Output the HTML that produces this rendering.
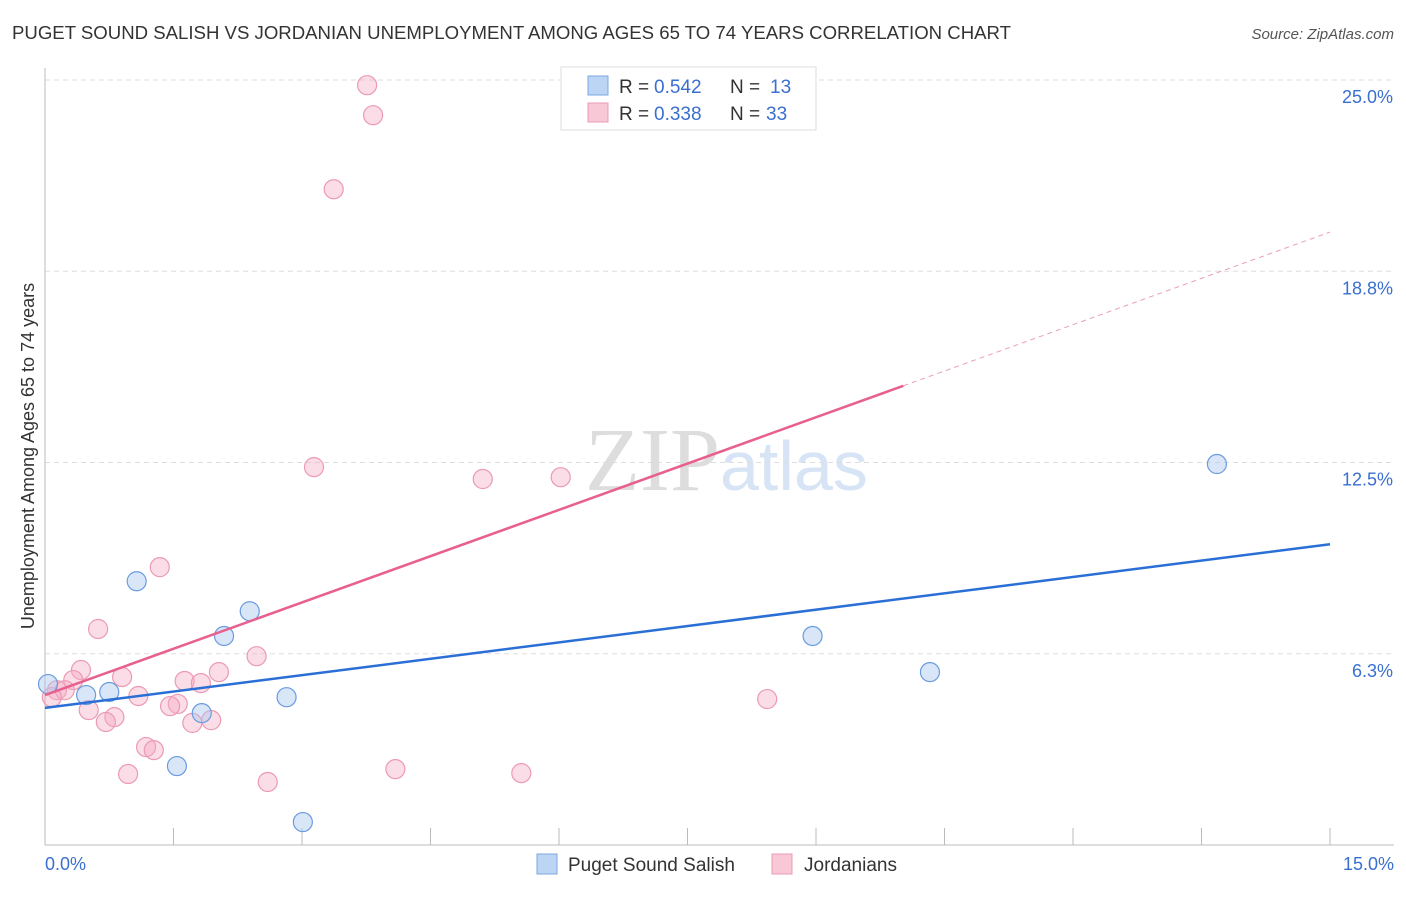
<!DOCTYPE html>
<html><head><meta charset="utf-8"><style>
body{margin:0;background:#fff;font-family:"Liberation Sans",sans-serif;}
</style></head><body>
<svg width="1406" height="892" xmlns="http://www.w3.org/2000/svg" id="chart">
<text x="12" y="39" font-size="18" fill="#333" textLength="999" lengthAdjust="spacingAndGlyphs">PUGET SOUND SALISH VS JORDANIAN UNEMPLOYMENT AMONG AGES 65 TO 74 YEARS CORRELATION CHART</text>
<text x="1394" y="39" font-size="15" fill="#555" font-style="italic" text-anchor="end">Source: ZipAtlas.com</text>
<text x="720" y="490" font-size="90" fill="#ddd" text-anchor="end" font-family="Liberation Serif">ZIP</text>
<text x="720" y="490" font-size="70" fill="#d6e4f5">atlas</text>
<g id="grid"></g>
<g id="axes"></g>
<g id="marks"></g>
<text transform="translate(34,456) rotate(-90)" font-size="18" fill="#333" text-anchor="middle">Unemployment Among Ages 65 to 74 years</text>
<g>
<rect x="561" y="67" width="255" height="63" fill="#fff" stroke="#ddd"/>
<rect x="588" y="76" width="20" height="19" fill="#bcd5f5" stroke="#7aa8e0"/>
<rect x="588" y="103" width="20" height="19" fill="#f9c8d6" stroke="#eb9ab3"/>
<text x="619" y="93" font-size="19" fill="#333">R =</text>
<text x="654" y="93" font-size="19" fill="#3a6fd0">0.542</text>
<text x="730" y="93" font-size="19" fill="#333">N =</text>
<text x="770" y="93" font-size="19" fill="#3a6fd0">13</text>
<text x="619" y="120" font-size="19" fill="#333">R =</text>
<text x="654" y="120" font-size="19" fill="#3a6fd0">0.338</text>
<text x="730" y="120" font-size="19" fill="#333">N =</text>
<text x="766" y="120" font-size="19" fill="#3a6fd0">33</text>
</g>
<g>
<rect x="537" y="854" width="20" height="20" fill="#bcd5f5" stroke="#7aa8e0"/>
<text x="568" y="871" font-size="19" fill="#333">Puget Sound Salish</text>
<rect x="772" y="854" width="20" height="20" fill="#f9c8d6" stroke="#eb9ab3"/>
<text x="804" y="871" font-size="19" fill="#333">Jordanians</text>
</g>
</svg>
<script>
const blueX=[0.035,0.48,0.75,1.07,1.54,1.83,2.09,2.39,2.82,3.01,8.96,10.33,13.68];
const blueY=[5.26,4.90,5.00,8.62,2.58,4.31,6.83,7.64,4.83,0.75,6.83,5.65,12.45];
const pinkX=[3.76,3.83,3.37,3.14,5.11,6.02,1.34,0.62,0.42,0.33,0.90,0.14,0.23,0.08,0.51,1.09,1.63,1.82,2.03,2.47,1.55,1.46,0.81,0.71,1.72,1.94,1.18,1.27,0.97,2.60,4.09,5.56,8.43];
const pinkY=[24.83,23.85,21.43,12.35,11.96,12.02,9.08,7.06,5.72,5.39,5.49,5.06,5.06,4.83,4.41,4.87,5.36,5.29,5.65,6.17,4.61,4.54,4.18,4.02,3.99,4.08,3.20,3.10,2.32,2.06,2.48,2.35,4.77];
const blueTrend=[4.48,9.83];
const pinkTrend=[4.90,20.03];
const yTicks=[6.25,12.5,18.75,25];
const yTickLabels=["6.3%","12.5%","18.8%","25.0%"];
const xTicks=[0,1.5,3,4.5,6,7.5,9,10.5,12,13.5,15];
const NS="http://www.w3.org/2000/svg";
const X=v=>45+v/15*1285, Y=v=>845-v/25*765;
function mk(t,a,p){const e=document.createElementNS(NS,t);for(const k in a)e.setAttribute(k,a[k]);document.getElementById(p).appendChild(e);return e;}
yTicks.forEach((v,i)=>{
 const l=mk('line',{x1:45,x2:1394,y1:Y(v),y2:Y(v),stroke:'#ddd','stroke-dasharray':'5,4'},'grid');
 
 
 const t=mk('text',{x:1393,y:Y(v)+23,'font-size':18,fill:'#3a6fd0','text-anchor':'end'},'axes');
 t.textContent=yTickLabels[i];
 
 
});
const ax=mk('line',{x1:45,x2:1394,y1:845,y2:845,stroke:'#bbb'},'axes');


const ay=mk('line',{x1:45,x2:45,y1:68,y2:845,stroke:'#bbb'},'axes');


xTicks.forEach(v=>{
 const l=mk('line',{x1:X(v),x2:X(v),y1:828,y2:845,stroke:'#bbb'},'axes');
 
 
});
const t0=mk('text',{x:45,y:870,'font-size':18,fill:'#3a6fd0'},'axes');t0.textContent='0.0%';


const t1=mk('text',{x:1394,y:870,'font-size':18,fill:'#3a6fd0','text-anchor':'end'},'axes');t1.textContent='15.0%';


pinkX.forEach((x,i)=>{
 const c=mk('circle',{cx:X(x),cy:Y(pinkY[i]),r:9.5,fill:'rgba(245,170,195,0.4)',stroke:'#eb9ab3','stroke-width':1.2},'marks');
 
 
});
blueX.forEach((x,i)=>{
 const c=mk('circle',{cx:X(x),cy:Y(blueY[i]),r:9.5,fill:'rgba(170,200,240,0.45)',stroke:'#6a9be0','stroke-width':1.2},'marks');
 
 
});
const slopeP=(pinkTrend[1]-pinkTrend[0])/15, xEnd=10.02;
const pl=mk('line',{x1:X(0),y1:Y(pinkTrend[0]),x2:X(xEnd),y2:Y(pinkTrend[0]+slopeP*xEnd),stroke:'#e8608d','stroke-width':2.5},'marks');


const pd=mk('line',{x1:X(xEnd),y1:Y(pinkTrend[0]+slopeP*xEnd),x2:X(15),y2:Y(pinkTrend[1]),stroke:'#e8a0b8','stroke-width':1,'stroke-dasharray':'5,4'},'marks');


const bl=mk('line',{x1:X(0),y1:Y(blueTrend[0]),x2:X(15),y2:Y(blueTrend[1]),stroke:'#2a6fd6','stroke-width':2.5},'marks');


</script>
</body></html>
